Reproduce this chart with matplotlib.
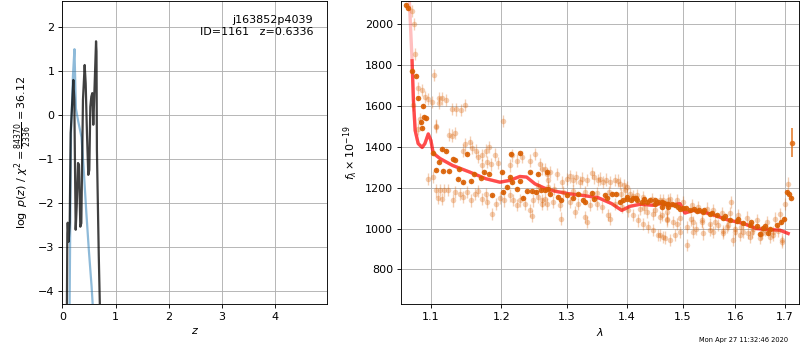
import matplotlib
matplotlib.use("Agg")
import matplotlib.pyplot as plt
from matplotlib.ticker import NullLocator, FixedFormatter

# --- p(z) panel ---
pz_z = [0.085, 0.094, 0.101, 0.120, 0.139, 0.157, 0.176, 0.207, 0.225, 0.251,
        0.270, 0.295, 0.313, 0.338, 0.357, 0.388, 0.420, 0.439, 0.463, 0.488,
        0.507, 0.526, 0.545, 0.563, 0.582, 0.598, 0.6336, 0.642, 0.650, 0.662,
        0.685, 0.710]
pz_logp = [-4.6, -2.69, -2.45, -2.88, -2.45, -0.41, 0.04, 0.80, 0.35, -2.61,
           -2.08, -1.09, -1.13, -2.54, -2.46, 0.35, 1.14, 0.72, -0.41, -1.36,
           -1.25, 0.19, 0.42, 0.50, -0.22, 0.35, 1.68, 1.45, -0.79, -1.63,
           -3.2, -4.6]

prior_z = [0.135, 0.163, 0.200, 0.228, 0.255, 0.300, 0.360, 0.400, 0.450,
           0.500, 0.550, 0.585]
prior_logp = [-4.6, -0.40, 0.90, 1.50, 0.15, -0.15, -0.50, -1.20, -2.20,
              -3.10, -3.90, -4.6]

# --- spectrum panel ---
beam_wave = [1.0747, 1.0780, 1.0790, 1.1047, 1.0833, 1.0878, 1.0923, 1.0968, 1.1021, 1.1114,
             1.1158, 1.1211, 1.1114, 1.1297, 1.1343, 1.1418, 1.1475, 1.0763, 1.1078, 1.0856,
             1.0833, 1.1069, 1.1245, 1.1295, 1.1332, 1.1475, 1.1545, 1.1453, 1.1575, 1.1666,
             1.1724, 1.1772, 1.1820, 1.1907, 1.1796, 1.1845, 1.1953, 1.1712, 1.1630, 1.2018,
             1.2151, 1.2226, 1.2302, 1.2428, 1.2505, 1.2582, 1.2660, 1.2712, 1.2126, 1.0970,
             1.1035, 1.1078, 1.1130, 1.1185, 1.1241, 1.1100, 1.1156, 1.1331, 1.1300, 1.1404,
             1.1450, 1.1497, 1.1566, 1.1612, 1.1659, 1.1724, 1.1772, 1.1796, 1.1868, 1.1916,
             1.1978, 1.2039, 1.2126, 1.2176, 1.2226, 1.2276, 1.2352, 1.2428, 1.2480, 1.2556,
             1.2608, 1.2660, 1.2454, 1.2608, 1.2686, 1.2738, 1.2843, 1.2923, 1.3000, 1.3108,
             1.3216, 1.3325, 1.3418, 1.3517, 1.3600, 1.3713, 1.3798, 1.3883, 1.3969, 1.4054,
             1.4170, 1.4286, 1.4434, 1.4582, 1.4733, 1.2608, 1.2686, 1.2790, 1.2895, 1.2906,
             1.3055, 1.3135, 1.3189, 1.3298, 1.3325, 1.3380, 1.3490, 1.3573, 1.3685, 1.3713,
             1.3798, 1.3912, 1.4025, 1.4112, 1.4199, 1.4286, 1.4374, 1.4463, 1.4553, 1.4643,
             1.4228, 1.4345, 1.4463, 1.4582, 1.4702, 1.4643, 1.4763, 1.4884, 1.5007, 1.5161,
             1.5285, 1.5444, 1.5571, 1.5733, 1.5893, 1.5907, 1.6056, 1.6222, 1.6423, 1.6626,
             1.6797, 1.6900, 1.7004, 1.7060, 1.4612, 1.4703, 1.4823, 1.4884, 1.5068, 1.5192,
             1.5350, 1.5507, 1.5667, 1.5829, 1.5987, 1.6155, 1.6323, 1.6524, 1.6762, 1.6934,
             1.4582, 1.4673, 1.4763, 1.4855, 1.5068, 1.4945, 1.5192, 1.5380, 1.5571, 1.5764,
             1.5960, 1.6089, 1.6289, 1.6490, 1.6694, 1.6934,
             1.3050, 1.3150, 1.3250, 1.3450, 1.3550, 1.3650, 1.3850, 1.3950, 1.2950, 1.3100,
             1.3300, 1.3500, 1.3700, 1.3900, 1.4100, 1.4300, 1.4500, 1.4700, 1.4950, 1.5150,
             1.5350, 1.5600, 1.5850, 1.6100, 1.6350, 1.6600, 1.6850, 1.5250, 1.5500, 1.5750,
             1.6000, 1.6250, 1.6500, 1.6750, 1.4000, 1.2800, 1.2700, 1.2550]
beam_flux = [2065, 2000, 1854, 1753, 1688, 1678, 1645, 1634, 1618, 1639,
             1637, 1629, 1613, 1585, 1583, 1582, 1606, 1606, 1499, 1537,
             1488, 1504, 1460, 1455, 1466, 1415, 1423, 1382, 1395, 1349,
             1361, 1382, 1398, 1362, 1325, 1314, 1320, 1309, 1382, 1528,
             1358, 1333, 1349, 1333, 1366, 1317, 1293, 1236, 1309, 1244,
             1252, 1187, 1190, 1187, 1190, 1151, 1146, 1179, 1138, 1171,
             1154, 1179, 1138, 1171, 1183, 1146, 1171, 1130, 1073, 1122,
             1151, 1138, 1162, 1141, 1114, 1138, 1122, 1089, 1138, 1154,
             1122, 1146, 1060, 1293, 1268, 1276, 1268, 1227, 1244, 1236,
             1227, 1236, 1271, 1236, 1227, 1227, 1236, 1220, 1187, 1171,
             1162, 1154, 1146, 1138, 1141, 1138, 1122, 1130, 1114, 1049,
             1130, 1081, 1122, 1057, 1032, 1114, 1122, 1105, 1065, 1049,
             1122, 1105, 1089, 1065, 1040, 1024, 1008, 992, 967, 959,
             1098, 1081, 1070, 1057, 1040, 1138, 1146, 1141, 1130, 1114,
             1105, 1098, 1089, 1076, 1076, 1130, 1065, 1054, 1040, 1032,
             1049, 1073, 1122, 1220, 1065, 1049, 1032, 1024, 1008, 1032,
             1032, 1024, 1016, 1008, 1000, 984, 984, 979, 984, 946,
             967, 956, 943, 967, 919, 984, 984, 976, 984, 979,
             943, 967, 959, 956, 959, 935,
             1255, 1250, 1245, 1250, 1245, 1240, 1235, 1215, 1180, 1185,
             1180, 1175, 1180, 1170, 1160, 1100, 1090, 1080, 1050, 1045,
             1040, 1030, 1020, 1010, 1000, 995, 990, 1000, 995, 990,
             985, 980, 975, 970, 1205, 1195, 1205, 1210]
beam_err = 30

binned_wave = [1.0678, 1.0700, 1.0753, 1.0798, 1.0833, 1.0900, 1.0936, 1.0865, 1.0878, 1.0910,
               1.1035, 1.1155, 1.1208, 1.1112, 1.1300, 1.1335, 1.1504, 1.1069, 1.1174, 1.1255,
               1.1390, 1.1606, 1.1748, 1.1820, 1.1380, 1.1446, 1.1566, 1.1702, 1.2003, 1.2126,
               1.2276, 1.2151, 1.2026, 1.2076, 1.2226, 1.1868, 1.2377, 1.2454, 1.2520, 1.2593,
               1.2660, 1.2712, 1.2316, 1.2428, 1.2556, 1.2136, 1.2276, 1.2686, 1.2738, 1.2869,
               1.2906, 1.3000, 1.3108, 1.3189, 1.3271, 1.3298, 1.3408, 1.3446, 1.3629, 1.3657,
               1.3742, 1.3815, 1.3883, 1.3939, 1.3997, 1.4066, 1.4170, 1.4258, 1.4345, 1.4493,
               1.4612, 1.4733, 1.4100, 1.4300, 1.4500, 1.4700, 1.4900, 1.5050, 1.5200, 1.5400,
               1.4612, 1.4733, 1.4855, 1.4945, 1.5130, 1.5256, 1.5380, 1.5507, 1.5635, 1.5764,
               1.5893, 1.6023, 1.6155, 1.6289, 1.6423, 1.6558, 1.6694, 1.6831, 1.6914, 1.6983,
               1.6490, 1.6660, 1.7041, 1.7089, 1.7131,
               1.4000, 1.4150, 1.4400, 1.4550, 1.4650, 1.4800, 1.5000, 1.5300, 1.5550, 1.5800,
               1.6050, 1.6300, 1.6600]
binned_flux = [2094, 2078, 1769, 1748, 1639, 1600, 1541, 1520, 1493, 1548,
               1369, 1390, 1382, 1328, 1341, 1337, 1366, 1288, 1284, 1280,
               1293, 1268, 1276, 1268, 1244, 1227, 1232, 1249, 1276, 1252,
               1231, 1227, 1179, 1203, 1195, 1162, 1183, 1182, 1179, 1190,
               1187, 1195, 1151, 1276, 1268, 1366, 1369, 1276, 1171, 1154,
               1141, 1162, 1151, 1167, 1141, 1130, 1174, 1146, 1162, 1151,
               1171, 1171, 1130, 1138, 1146, 1138, 1138, 1130, 1130, 1122,
               1130, 1122, 1150, 1145, 1138, 1120, 1105, 1100, 1095, 1090,
               1105, 1105, 1114, 1098, 1089, 1084, 1081, 1073, 1065, 1054,
               1044, 1036, 1027, 1019, 1011, 1003, 1000, 1016, 1032, 1049,
               972, 979, 1179, 1167, 1151,
               1155, 1150, 1140, 1130, 1125, 1118, 1100, 1090, 1078, 1060,
               1045, 1030, 1012]
binned_err = 8

extra_wave = [1.7155]
extra_flux = [1421]
extra_err = [70]

model_wave = [1.0712, 1.0752, 1.0770, 1.0793, 1.0833, 1.0886, 1.0923, 1.0968, 1.1004, 1.1035,
              1.1127, 1.1300, 1.1545, 1.1772, 1.1978, 1.2126, 1.2276, 1.2377, 1.2505, 1.2660,
              1.2817, 1.3028, 1.3271, 1.3517, 1.3742, 1.3912, 1.4054, 1.4228, 1.4463, 1.4582,
              1.4763, 1.4945, 1.5037, 1.5192, 1.5507, 1.5829, 1.6155, 1.6423, 1.6694, 1.6900,
              1.7070]
model_flux = [2150, 1821, 1626, 1480, 1416, 1397, 1416, 1463, 1431, 1369,
              1343, 1309, 1276, 1244, 1227, 1236, 1255, 1252, 1219, 1197,
              1183, 1171, 1162, 1151, 1122, 1089, 1109, 1119, 1114, 1122,
              1114, 1122, 1076, 1089, 1073, 1044, 1025, 1000, 995, 992,
              976]

wave_ticks = [1.1, 1.2, 1.3, 1.4, 1.5, 1.6, 1.7]

fig = plt.figure(figsize=(10, 4.375), dpi=80)

# left: redshift PDF
ax1 = fig.add_axes([0.0779, 0.1314, 0.3313, 0.8649])
ax1.plot(prior_z, prior_logp, color='tab:blue', alpha=0.5, lw=2)
ax1.plot(pz_z, pz_logp, color='k', alpha=0.75, lw=2)
ax1.set_xlim(0, 4.98)
ax1.set_ylim(-4.3, 2.59)
ax1.set_xticks([0, 1, 2, 3, 4])
ax1.grid()
ax1.set_xlabel(r'$z$')
ax1.set_ylabel(r'$\log\ p(z)$ / $\chi^2=\frac{84370}{2336}=36.12$')
ax1.text(0.947, 0.955, 'j163852p4039\nID=1161   z=0.6336',
         transform=ax1.transAxes, ha='right', va='top', fontsize=10)

# right: spectrum
ax2 = fig.add_axes([0.5009, 0.1314, 0.4979, 0.8666])
ax2.errorbar(beam_wave, beam_flux, yerr=beam_err, marker='o', ms=5, ls='none',
             color='#d95f02', alpha=0.3, elinewidth=1.2, mec='none')
ax2.errorbar(binned_wave, binned_flux, yerr=binned_err, marker='o', ms=5, ls='none',
             color='#d95f02', alpha=0.9, elinewidth=1.2, mec='none')
ax2.errorbar(extra_wave, extra_flux, yerr=extra_err, marker='o', ms=5, ls='none',
             color='#e06a10', alpha=0.85, elinewidth=1.5, mec='none')
ax2.plot(model_wave, model_flux, color='r', alpha=0.25, lw=3)
ax2.plot(model_wave[1:], model_flux[1:], color='r', alpha=0.6, lw=3)

ax2.set_xscale('log')
ax2.set_xlim(1.0603, 1.730)
ax2.set_ylim(631, 2115)
ax2.set_xticks(wave_ticks)
ax2.xaxis.set_major_formatter(FixedFormatter([str(t) for t in wave_ticks]))
ax2.xaxis.set_minor_locator(NullLocator())
ax2.grid()
ax2.set_xlabel(r'$\lambda$')
ax2.set_ylabel(r'$f_\lambda \times 10^{-19}$')

fig.text(0.985, 0.028, 'Mon Apr 27 11:32:46 2020', ha='right', va='center', fontsize=6)

fig.savefig('out.png', dpi=80)
